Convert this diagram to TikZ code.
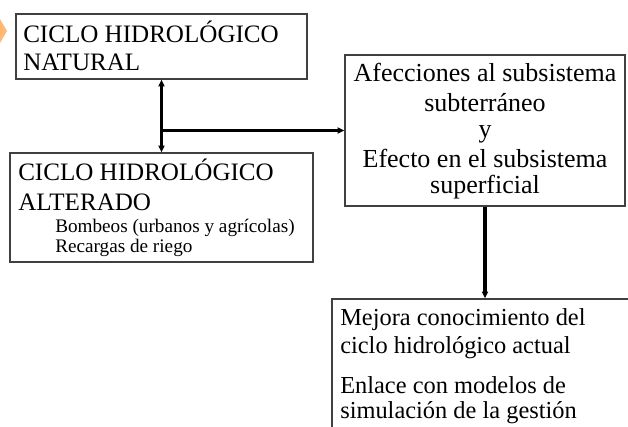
\documentclass[tikz,border=0pt]{standalone}
\usepackage{fontspec}
\setmainfont{Liberation Serif}
\usetikzlibrary{arrows.meta}

\tikzset{
  box/.style={draw=black!75, line width=1.1pt, inner sep=0pt},
  link/.style={line width=2.6pt, -{Triangle[length=5pt,width=4.5pt]}},
  caps/.style={inner sep=0pt, font=\fontsize{18.8}{21}\selectfont},
  big/.style={inner sep=0pt, font=\fontsize{19.5}{21}\selectfont},
  note/.style={inner sep=0pt, font=\fontsize{18.3}{21}\selectfont},
  small/.style={inner sep=0pt, font=\fontsize{14.4}{15}\selectfont}
}

\begin{document}
\begin{tikzpicture}[x=0.75pt, y=-0.75pt]
    \useasboundingbox (0,0) rectangle (628,426);
    \clip (0,0) rectangle (628,426);
    % corner mark
    \fill[orange!55] (0,19) -- (7,31) -- (0,43) -- cycle;
    % boxes
    \node[box, minimum width=291*0.75pt, minimum height=65*0.75pt] (natural) at (161.5,46.5) {};
    \node[box, minimum width=303*0.75pt, minimum height=109*0.75pt] (alterado) at (161.5,207.5) {};
    \node[box, minimum width=280*0.75pt, minimum height=151*0.75pt] (afecciones) at (485,130.5) {};
    \node[box, minimum width=328*0.75pt, minimum height=161*0.75pt] (mejora) at (496,379.5) {};
    % texts
    \node[caps, anchor=base west] (n1) at (23,42) {CICLO HIDROLÓGICO};
    \node[caps, anchor=base west] (n2) at (23,70) {NATURAL};
    \node[caps, anchor=base west] (a1) at (18,180) {CICLO HIDROLÓGICO};
    \node[caps, anchor=base west] (a2) at (18,210) {ALTERADO};
    \node[small, anchor=base west] (a3) at (55,232) {Bombeos (urbanos y agrícolas)};
    \node[small, anchor=base west] (a4) at (55,252) {Recargas de riego};
    \foreach \t/\y [count=\i] in {Afecciones al subsistema/81, subterráneo/111, y/137,
        Efecto en el subsistema/167, superficial/193}
      \node[big, anchor=base] (e\i) at (485,\y) {\t};
    \foreach \t/\y [count=\i] in {Mejora conocimiento del/325, ciclo hidrológico actual/353,
        Enlace con modelos de/393, simulación de la gestión/418}
      \node[note, anchor=base west] (m\i) at (340,\y) {\t};
    % connectors
    \coordinate (split) at (natural.south |- afecciones.west);
    \draw[link, {Triangle[length=5pt,width=4.5pt]}-{Triangle[length=5pt,width=4.5pt]}] (natural.south) -- (alterado.north);
    \draw[link] (split) -- (afecciones.west);
    \draw[link] (afecciones.south) -- (afecciones.south |- mejora.north);
  \end{tikzpicture}
\end{document}
